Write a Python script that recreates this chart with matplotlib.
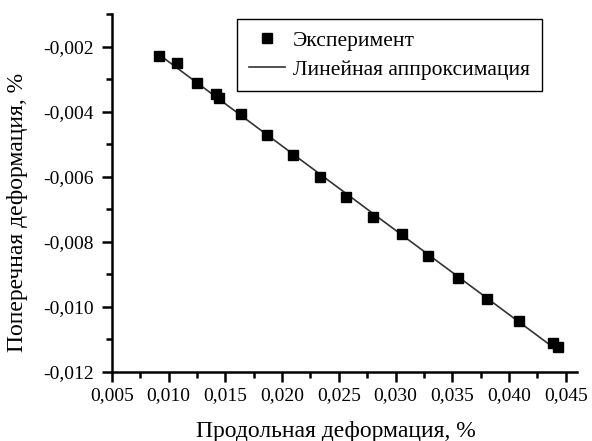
import numpy as np
import matplotlib
matplotlib.use('Agg')
import matplotlib.pyplot as plt
from matplotlib.ticker import MultipleLocator, FuncFormatter

# data
longitudinal = [0.00914, 0.01073, 0.01249, 0.01420, 0.01440, 0.01637, 0.01866, 0.02095,
                0.02333, 0.02562, 0.02800, 0.03055, 0.03284, 0.03548, 0.03804, 0.04086,
                0.04386, 0.04430]
transverse = [-0.00229, -0.00250, -0.00312, -0.00345, -0.00357, -0.00407, -0.00472, -0.00533,
              -0.00601, -0.00663, -0.00724, -0.00777, -0.00844, -0.00912, -0.00977, -0.01044,
              -0.01112, -0.01124]

x_label = 'Продольная деформация, %'
y_label = 'Поперечная деформация, %'
legend_labels = ['Эксперимент', 'Линейная аппроксимация']

plt.rcParams['font.family'] = ['Liberation Serif', 'DejaVu Serif']
plt.rcParams['font.size'] = 14

fig = plt.figure(figsize=(5.92, 4.41), dpi=100)
ax = fig.add_axes([0.189, 0.1565, 0.786, 0.8115])

x = np.array(longitudinal)
y = np.array(transverse)
k, b = np.polyfit(x, y, 1)
xf = np.array([x.min(), x.max()])

ax.plot(x, y, 's', color='black', markersize=6.5, label=legend_labels[0], zorder=3)
ax.plot(xf, k * xf + b, '-', color='#333333', linewidth=1.2, label=legend_labels[1], zorder=2)

ax.set_xlim(0.005, 0.046)
ax.set_ylim(-0.012, -0.001)

ax.xaxis.set_major_locator(MultipleLocator(0.005))
ax.xaxis.set_minor_locator(MultipleLocator(0.0025))
ax.yaxis.set_major_locator(MultipleLocator(0.002))
ax.yaxis.set_minor_locator(MultipleLocator(0.001))

fmt = FuncFormatter(lambda v, p: f'{v:.3f}'.replace('.', ','))
ax.xaxis.set_major_formatter(fmt)
ax.yaxis.set_major_formatter(fmt)

for side in ['top', 'right']:
    ax.spines[side].set_visible(False)
for side in ['left', 'bottom']:
    ax.spines[side].set_linewidth(1.8)

ax.tick_params(which='major', direction='out', length=7, width=1.8, labelsize=14)
ax.tick_params(axis='x', which='major', pad=4)
ax.tick_params(axis='y', which='major', pad=6)
ax.tick_params(which='minor', direction='out', length=4, width=1.8)

fig.text(336 / 592, 1 - 432 / 441, x_label, fontsize=17, ha='center', va='center')
fig.text(18 / 592, 1 - 212 / 441, y_label, fontsize=17, ha='center', va='center',
         rotation=90)

leg = fig.legend(loc='upper left', bbox_to_anchor=(237 / 592, 1 - 19 / 441),
                 fontsize=15.5, frameon=True, fancybox=False, edgecolor='black',
                 framealpha=1, handlelength=1.7, borderpad=0.55, labelspacing=0.4,
                 handletextpad=0.35, borderaxespad=0)
leg.get_frame().set_linewidth(1.0)

fig.savefig('out.png', dpi=100)
